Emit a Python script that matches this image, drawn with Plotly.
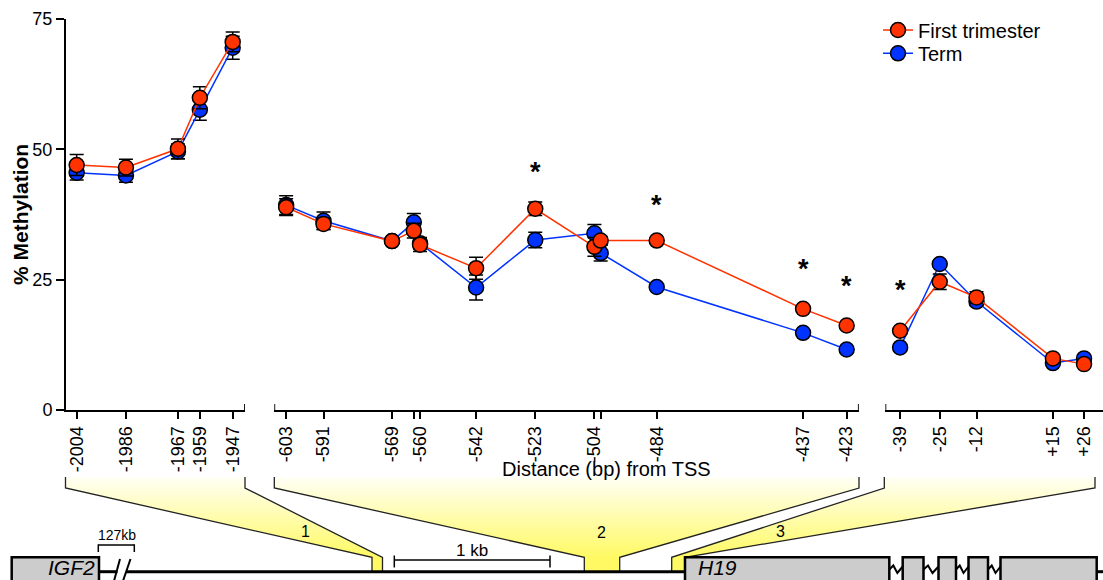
import plotly.graph_objects as go

W, H = 1103, 580
RED = "#ff3300"
BLUE = "#0033ff"
FONT = "Liberation Sans, Arial, sans-serif"

# ---------------- data ----------------
# panel 1 (upstream region 1)
pos_p1 = [-2004, -1986, -1967, -1959, -1947]
first_p1 = [47.0, 46.5, 50.1, 59.9, 70.6]
first_p1_err = [2.0, 1.6, 1.9, 2.1, 1.9]
term_p1 = [45.5, 45.0, 49.6, 57.6, 69.5]
term_p1_err = [1.4, 1.3, 1.4, 2.0, 2.2]
labels_p1 = ["-2004", "-1986", "-1967", "-1959", "-1947"]

# panel 2 (region 2)
pos_p2 = [-603, -591, -569, -562, -560, -542, -523, -504, -502, -484, -437, -423]
first_p2 = [38.9, 35.7, 32.4, 34.4, 31.7, 27.2, 38.6, 31.3, 32.5, 32.5, 19.4, 16.2]
first_p2_err = [1.6, 1.1, 0.5, 1.4, 1.3, 2.1, 1.3, 1.8, 0.8, 0.4, 0.4, 0.4]
term_p2 = [39.3, 36.3, 32.4, 36.0, 32.0, 23.5, 32.6, 33.9, 30.1, 23.6, 14.8, 11.6]
term_p2_err = [1.8, 1.7, 0.5, 1.7, 1.1, 2.4, 1.5, 1.7, 1.5, 0.4, 0.4, 0.4]
labels_p2 = ["-603", "-591", "-569", "", "-560", "-542", "-523", "-504", "", "-484", "-437", "-423"]

# panel 3 (region 3)
pos_p3 = [-39, -25, -12, 15, 26]
first_p3 = [15.2, 24.6, 21.6, 9.9, 8.8]
first_p3_err = [0.4, 1.5, 1.1, 0.4, 0.4]
term_p3 = [12.0, 28.0, 20.8, 9.0, 9.9]
term_p3_err = [0.4, 0.5, 0.8, 0.4, 0.4]
labels_p3 = ["-39", "-25", "-12", "+15", "+26"]

# significance markers
star_pos_p2 = [-523, -484, -437, -423]
star_y_p2 = [47.0, 40.7, 28.3, 25.1]
star_pos_p3 = [-39]
star_y_p3 = [24.3]

y_ticks = [0, 25, 50, 75]

# ---------------- layout helpers (pixel geometry) ----------------
def px_x(p):
    return p / W

def px_y(p):
    return 1 - p / H

fig = go.Figure()

panels = [
    ("x", pos_p1, first_p1, first_p1_err, term_p1, term_p1_err),
    ("x2", pos_p2, first_p2, first_p2_err, term_p2, term_p2_err),
    ("x3", pos_p3, first_p3, first_p3_err, term_p3, term_p3_err),
]

for i, (xa, pos, f, fe, t, te) in enumerate(panels):
    for name, vals, errs, col, leg in [("Term", t, te, BLUE, "legend2"),
                                       ("First trimester", f, fe, RED, "legend")]:
        fig.add_trace(go.Scatter(
            x=pos, y=vals, xaxis=xa, yaxis="y",
            mode="lines+markers", name=name,
            line=dict(color=col, width=1.5),
            marker=dict(size=15, color=col, line=dict(color="black", width=1.5)),
            error_y=dict(type="data", array=errs, color="black", thickness=1.5, width=7),
            showlegend=(i == 0), legend=leg, cliponaxis=False,
        ))

# ---------------- diagram (overlay pixel axes x4/y4) ----------------
DX, DY = "x4", "y4"
brackets = [
    dict(lt=65.5, rt=245.0, ln=372.0, rn=382.5, label="1", lx=305, ly=531.5),
    dict(lt=274.3, rt=859.0, ln=584.3, rn=619.7, label="2", lx=601.5, ly=532.5),
    dict(lt=884.3, rt=1095.0, ln=671.7, rn=685.0, label="3", lx=780.5, ly=531.0),
]
TOP, KNEE, NECK, BASE = 477.0, 488.0, 557.3, 571.7

for b in brackets:
    xs = [b["lt"], b["rt"], b["rt"], b["rn"], b["rn"], b["ln"], b["ln"], b["lt"], b["lt"]]
    ys = [TOP, TOP, KNEE, NECK, BASE, BASE, NECK, KNEE, TOP]
    fig.add_trace(go.Scatter(
        x=xs, y=ys, xaxis=DX, yaxis=DY, mode="lines", fill="toself",
        line=dict(width=0, color="rgba(0,0,0,0)"),
        fillgradient=dict(type="vertical", start=TOP, stop=NECK,
                          colorscale=[[0, "rgb(255,255,245)"], [1, "rgb(255,250,100)"]]),
        showlegend=False, hoverinfo="skip",
    ))
    fig.add_trace(go.Scatter(
        x=[b["lt"], b["lt"], b["ln"], b["ln"]], y=[TOP, KNEE, NECK, BASE],
        xaxis=DX, yaxis=DY, mode="lines", line=dict(color="#222", width=1.3),
        showlegend=False, hoverinfo="skip"))
    fig.add_trace(go.Scatter(
        x=[b["rt"], b["rt"], b["rn"], b["rn"]], y=[TOP, KNEE, NECK, BASE],
        xaxis=DX, yaxis=DY, mode="lines", line=dict(color="#222", width=1.3),
        showlegend=False, hoverinfo="skip"))

shapes = []
def seg(x0, y0, x1, y1, w=1.3, c="black"):
    shapes.append(dict(type="line", xref=DX, yref=DY, x0=x0, y0=y0, x1=x1, y1=y1,
                       line=dict(color=c, width=w)))

def box(x0, x1):
    shapes.append(dict(type="rect", xref=DX, yref=DY, x0=x0, x1=x1, y0=NECK, y1=600,
                       fillcolor="#cccccc", line=dict(color="black", width=2.5)))

# baseline
seg(99, BASE, 117.5, BASE, 3)
seg(126, BASE, 686, BASE, 3)
seg(1096, BASE, 1103, BASE, 3)
# break marks
seg(120, 559, 114, 581, 2)
seg(130.5, 559, 123, 581, 2)
# 127kb bracket
seg(98.3, 545, 134.3, 545, 1.5)
seg(98.3, 544.3, 98.3, 552, 1.5)
seg(134.3, 544.3, 134.3, 552, 1.5)
# 1 kb scale bar
seg(394.3, 560, 550, 560, 1.5)
seg(394.3, 555.5, 394.3, 567.5, 1.5)
seg(550, 555.5, 550, 567.5, 1.5)
# genes
box(11.7, 99)
box(685, 889.3)
exons = [(902.7, 923.5), (938.5, 956), (968.5, 988), (1000.5, 1096.7)]
for ex in exons:
    box(*ex)
prev = 889.3
for ex in exons:
    a, b_ = prev, ex[0]
    w_ = b_ - a
    fig.add_trace(go.Scatter(
        x=[a, a + 0.3 * w_, a + 0.6 * w_, b_], y=[569.5, 565.5, 573, 566.5],
        xaxis=DX, yaxis=DY, mode="lines", line=dict(color="black", width=2),
        showlegend=False, hoverinfo="skip"))
    prev = ex[1]

# axis end ticks (cross the axis line)
for xa, val in [("x", -1942.5), ("x2", -606.8), ("x2", -419.1), ("x3", -44.2)]:
    shapes.append(dict(type="line", xref=xa, yref="y", x0=val, x1=val,
                       ysizemode="pixel", yanchor=0, y0=-6, y1=6,
                       line=dict(color="black", width=1.8)))

annotations = []
def txt(x, y, s, size, italic=False, bold=False, xanchor="center", angle=0,
        yanchor="middle", ref=(DX, DY)):
    if italic:
        s = "<i>" + s + "</i>"
    if bold:
        s = "<b>" + s + "</b>"
    annotations.append(dict(x=x, y=y, xref=ref[0], yref=ref[1], text=s, showarrow=False,
                            font=dict(size=size, family=FONT, color="black"),
                            xanchor=xanchor, yanchor=yanchor, textangle=angle, borderpad=0))

for b in brackets:
    txt(b["lx"], b["ly"], b["label"], 16)
txt(116.5, 535, "127kb", 14)
txt(471.7, 550.5, "1 kb", 17)
txt(96, 579.5, "IGF2", 21, italic=True, xanchor="right", yanchor="bottom")
txt(697, 579.5, "H19", 21, italic=True, xanchor="left", yanchor="bottom")
txt(606, 469, "Distance (bp) from TSS", 20)
txt(20, 215, "% Methylation", 21, bold=True, angle=-90)

for xs, ys, xa in [(star_pos_p2, star_y_p2, "x2"), (star_pos_p3, star_y_p3, "x3")]:
    for sx, sy in zip(xs, ys):
        annotations.append(dict(x=sx, y=sy, xref=xa, yref="y", text="<b>*</b>", showarrow=False,
                                font=dict(size=27, family=FONT, color="black"),
                                yanchor="middle", yshift=-7))

ydom = [px_y(410), px_y(19)]
axis_common = dict(showline=True, linecolor="black", linewidth=2, ticks="outside",
                   ticklen=7, tickwidth=1.5, tickcolor="black", showgrid=False,
                   zeroline=False, tickangle=-90, tickfont=dict(size=18, family=FONT, color="black"),
                   anchor="y", tickmode="array", automargin=False)

fig.update_layout(
    width=W, height=H, margin=dict(l=0, r=0, t=0, b=0, pad=0, autoexpand=False),
    paper_bgcolor="white", plot_bgcolor="rgba(0,0,0,0)",
    font=dict(family=FONT, color="black"),
    xaxis=dict(domain=[px_x(66), px_x(245)], range=[-2007.9, -1942.5],
               tickvals=pos_p1, ticktext=labels_p1, **axis_common),
    xaxis2=dict(domain=[px_x(274.3), px_x(858.8)], range=[-606.8, -419.1],
                tickvals=pos_p2, ticktext=labels_p2, **axis_common),
    xaxis3=dict(domain=[px_x(885.4), 1.0], range=[-44.2, 32.7],
                tickvals=pos_p3, ticktext=labels_p3, **axis_common),
    yaxis=dict(domain=ydom, range=[0, 75], tickvals=y_ticks, showline=True, linecolor="black",
               linewidth=2, ticks="outside", ticklen=8, tickwidth=1.5, tickcolor="black",
               showgrid=False, zeroline=False, anchor="x", automargin=False,
               tickfont=dict(size=18, family=FONT, color="black")),
    xaxis4=dict(domain=[0, 1], range=[0, W], visible=False, anchor="y4"),
    yaxis4=dict(domain=[0, 1], range=[H, 0], visible=False, anchor="x4"),
    shapes=shapes, annotations=annotations,
    legend=dict(x=px_x(878), y=px_y(30), xanchor="left", yanchor="middle",
                font=dict(size=20, family=FONT, color="black"), bgcolor="rgba(0,0,0,0)"),
    legend2=dict(x=px_x(878), y=px_y(53.3), xanchor="left", yanchor="middle",
                 font=dict(size=20, family=FONT, color="black"), bgcolor="rgba(0,0,0,0)"),
    showlegend=True,
)

fig.write_html("out.html")
